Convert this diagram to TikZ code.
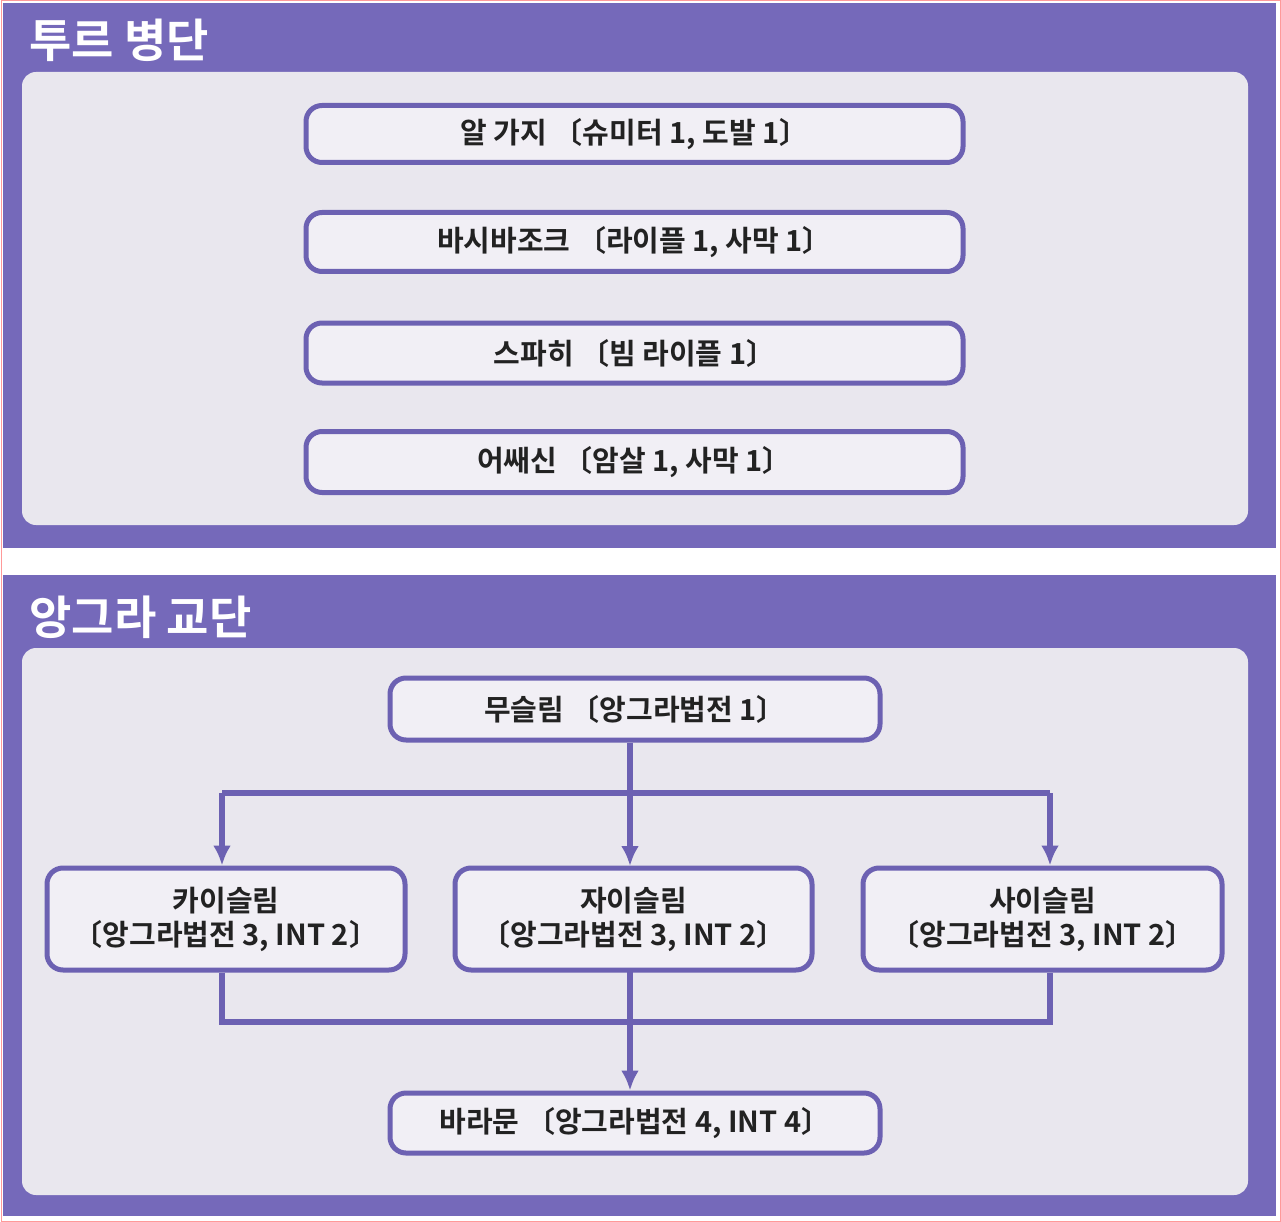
\documentclass[tikz,border=0pt]{standalone}
\usetikzlibrary{arrows.meta}
\usepackage{fontspec}
\setmainfont{Noto Sans CJK KR}[BoldFont={* Bold}]
\definecolor{panel}{HTML}{7569BA}
\definecolor{inner}{HTML}{E9E7EE}
\definecolor{bd}{HTML}{6C61B2}
\definecolor{bf}{HTML}{F1EFF5}
\definecolor{tx}{HTML}{222222}
\begin{document}
\begin{tikzpicture}[x=1pt,y=-1pt,
  box/.style={draw=bd,line width=5pt,fill=bf,rounded corners=16pt,text=tx,font=\fontsize{29}{34}\selectfont\bfseries,align=center,inner sep=0pt},
  conn/.style={draw=bd,line width=5.5pt},
  arr/.style={conn,-{Latex[length=20pt,width=18pt]}}]
\useasboundingbox (0,0) rectangle (1281,1222);
\fill[white] (0,0) rectangle (1281,1222);
\draw[red!40,line width=1pt] (1,1) rectangle (1280,1221);
\fill[panel] (3,3) rectangle (1276,548);
\fill[panel] (3,575) rectangle (1276,1216);
\fill[inner,rounded corners=14pt] (22,72) rectangle (1248,525);
\fill[inner,rounded corners=14pt] (22,648) rectangle (1248,1195);
\node[anchor=west,text=white,font=\fontsize{46}{50}\selectfont\bfseries] (t1) at (26,40) {투르 병단};
\node[anchor=west,text=white,font=\fontsize{46}{50}\selectfont\bfseries] (t2) at (26,617) {앙그라 교단};
\node[box,minimum width=657pt,minimum height=57pt] (a1) at (634.5,134) {알 가지 〔슈미터 1, 도발 1〕};
\node[box,minimum width=657pt,minimum height=59pt] (a2) at (634.5,242) {바시바조크 〔라이플 1, 사막 1〕};
\node[box,minimum width=657pt,minimum height=60pt] (a3) at (634.5,353) {스파히 〔빔 라이플 1〕};
\node[box,minimum width=657pt,minimum height=61pt] (a4) at (634.5,462) {어쌔신 〔암살 1, 사막 1〕};
\node[box,minimum width=490pt,minimum height=62pt] (m) at (635,709) {무슬림 〔앙그라법전 1〕};
\node[box,minimum width=358pt,minimum height=102pt] (k) at (226,919) {카이슬림\\〔앙그라법전 3, INT 2〕};
\node[box,minimum width=357pt,minimum height=102pt] (j) at (633.5,919) {자이슬림\\〔앙그라법전 3, INT 2〕};
\node[box,minimum width=359pt,minimum height=102pt] (s) at (1042.5,919) {사이슬림\\〔앙그라법전 3, INT 2〕};
\node[box,minimum width=490pt,minimum height=60pt] (b) at (635,1123) {바라문 〔앙그라법전 4, INT 4〕};
\coordinate (tl) at (222,793); \coordinate (tr) at (1050,793);
\coordinate (bl) at (222,1022); \coordinate (br) at (1050,1022);
\draw[conn] (tl) -- (tr);
\draw[arr] (m.south -| 630,0) -- (630,866);
\draw[arr] (tl) -- (k.north -| tl);
\draw[arr] (tr) -- (s.north -| tr);
\draw[conn] (k.south -| bl) -- (bl) -- (br) -- (s.south -| br);
\draw[arr] (630,969) -- (b.north -| 630,0);
\end{tikzpicture}
\end{document}
